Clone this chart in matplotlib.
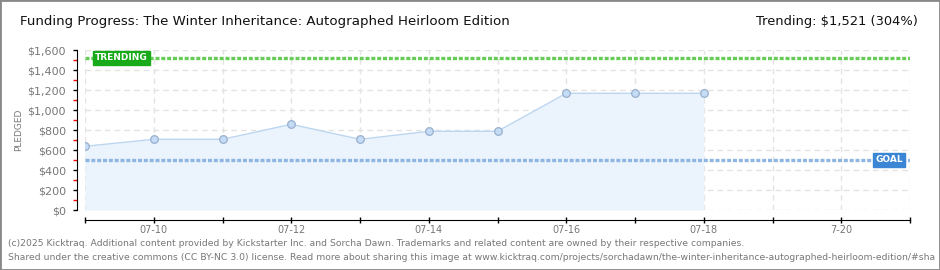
import matplotlib
matplotlib.use("Agg")
import matplotlib.pyplot as plt
import matplotlib.dates as mdates
from matplotlib.patches import Rectangle
import numpy as np
import datetime as dt

# ---- data ----
dates = ["2025-07-09", "2025-07-10", "2025-07-11", "2025-07-12", "2025-07-13",
         "2025-07-14", "2025-07-15", "2025-07-16", "2025-07-17", "2025-07-18"]
pledged = [637, 707, 707, 857, 707, 787, 787, 1167, 1167, 1167]
goal = 500
trending = 1521
trending_pct = 304
x_start, x_end = "2025-07-09", "2025-07-21"
y_ticks = [0, 200, 400, 600, 800, 1000, 1200, 1400, 1600]
x_tick_labels = {"2025-07-10": "07-10", "2025-07-12": "07-12", "2025-07-14": "07-14",
                 "2025-07-16": "07-16", "2025-07-18": "07-18", "2025-07-20": "7-20"}
title = "Funding Progress: The Winter Inheritance: Autographed Heirloom Edition"
footer1 = ("(c)2025 Kicktraq. Additional content provided by Kickstarter Inc. and Sorcha Dawn. "
           "Trademarks and related content are owned by their respective companies.")
footer2 = ("Shared under the creative commons (CC BY-NC 3.0) license. Read more about sharing this image at "
           "www.kicktraq.com/projects/sorchadawn/the-winter-inheritance-autographed-heirloom-edition/#sha")

to_d = lambda s: mdates.date2num(dt.datetime.strptime(s, "%Y-%m-%d"))
xd = [to_d(d) for d in dates]
x0, x1 = to_d(x_start), to_d(x_end)

W, H = 940, 270
PX = 72 / 100  # points per pixel
fig = plt.figure(figsize=(W / 100, H / 100), dpi=100)
fig.patch.set_facecolor("white")
ax = fig.add_axes([85 / W, 1 - 210 / H, (910 - 85) / W, 160 / H])
ax.set_xlim(x0, x1)
ax.set_ylim(0, 1600)

# grid
for d in np.arange(x0, x1 + 0.5, 1):
    ax.axvline(d, color="#e3e3e3", lw=1, ls=(0, (4, 3)), zorder=0)
for v in y_ticks:
    ax.axhline(v, color="#e3e3e3", lw=1, ls=(0, (4, 3)), zorder=0)

# area + line + markers
ax.fill_between(xd, pledged, 0, color="#ebf3fc", zorder=1, lw=0)
ax.plot(xd, pledged, color="#bcd6f2", lw=1, zorder=2)
ax.plot(xd, pledged, ls="none", marker="o", ms=5.5, mfc="#c4dcf6", mec="#98b0cc", mew=0.9, zorder=3)

# goal & trending lines
ax.axhline(trending, color="#66cc55", lw=2.4, ls=(0, (1.2, 0.55)), zorder=2)
ax.axhline(goal, color="#8fb6e2", lw=2.4, ls=(0, (1.2, 0.55)), zorder=2)

ax.text(x0 + 0.15, trending, "TRENDING", color="white", fontsize=6.5, fontweight="bold",
        va="center", ha="left", zorder=5,
        bbox=dict(boxstyle="square,pad=0.25", fc="#18aa18", ec="#18aa18"))
ax.text(x1 - 0.1, goal, "GOAL", color="white", fontsize=6.5, fontweight="bold",
        va="center", ha="right", zorder=5,
        bbox=dict(boxstyle="square,pad=0.25", fc="#3a86d4", ec="#3a86d4"))

# axes styling
for s in ["top", "right"]:
    ax.spines[s].set_visible(False)
ax.spines["left"].set_color("black")
ax.spines["bottom"].set_color("black")
ax.spines["left"].set_position(("outward", 8 * PX))
ax.spines["bottom"].set_position(("outward", 10 * PX))
ax.set_yticks(y_ticks)
ax.set_yticklabels([f"${v:,}" for v in y_ticks], color="#777777", fontsize=8)
ax.set_yticks([v + 100 for v in y_ticks[:-1]], minor=True)
ax.tick_params(axis="y", which="major", length=3, width=1, color="black", pad=5)
ax.tick_params(axis="y", which="minor", length=3, width=1, color="red")
xt = np.arange(x0, x1 + 0.5, 1)
ax.set_xticks(xt)
lab = []
for d in xt:
    s = mdates.num2date(d).strftime("%Y-%m-%d")
    lab.append(x_tick_labels.get(s, ""))
ax.set_xticklabels(lab, color="#777777", fontsize=7)
ax.tick_params(axis="x", which="major", length=5, width=1, direction="inout", color="black", pad=1)
ax.set_ylabel("PLEDGED", color="#777777", fontsize=6.5)
ax.yaxis.set_label_coords((23 - 85) / (910 - 85), 0.5)

# title & trending text
fig.text(20 / W, 1 - 22 / H, title, fontsize=9.6, color="#111111", va="center", ha="left")
fig.text(918 / W, 1 - 22 / H, f"Trending: ${trending:,} ({trending_pct}%)", fontsize=9.4,
         color="#111111", va="center", ha="right")

# footer
fig.text(8 / W, 1 - 243 / H, footer1, fontsize=6.7, color="#777777", va="center", ha="left")
fig.text(8 / W, 1 - 257 / H, footer2, fontsize=6.7, color="#777777", va="center", ha="left")

# frame
fig.patches.append(Rectangle((0, 0), 1, 1, transform=fig.transFigure, fill=False,
                             ec="#888888", lw=2))

fig.savefig("out.png", dpi=100)
